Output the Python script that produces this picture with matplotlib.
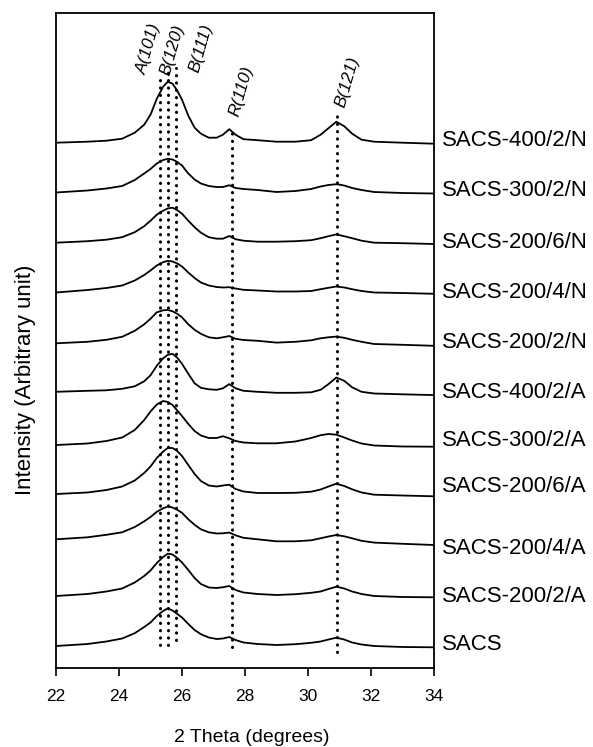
import matplotlib
matplotlib.use('Agg')
import matplotlib.pyplot as plt
import matplotlib.transforms as mtransforms

plt.rcParams['font.family'] = ['Liberation Sans', 'DejaVu Sans']

# ---------------- data ----------------
two_theta = [22.0, 23.0, 23.6, 24.1, 24.5, 24.8, 25.0, 25.2, 25.4, 25.55, 25.7, 25.85,
             26.0, 26.2, 26.4, 26.6, 26.85, 27.1, 27.3, 27.5, 27.7, 27.95, 28.4, 29.0,
             29.6, 30.1, 30.4, 30.65, 30.9, 31.15, 31.4, 31.7, 32.1, 33.0, 34.0]

samples = ['SACS-400/2/N', 'SACS-300/2/N', 'SACS-200/6/N', 'SACS-200/4/N', 'SACS-200/2/N',
           'SACS-400/2/A', 'SACS-300/2/A', 'SACS-200/6/A', 'SACS-200/4/A', 'SACS-200/2/A', 'SACS']

# vertical stacking offset of each pattern (arbitrary units)
offsets = [525.3, 475.5, 425.3, 375.5, 324.7, 276.2, 223.0, 174.0, 128.7, 72.0, 22.0]

i_400_2_N = [0, 1, 2, 4, 10, 18, 28, 44, 56, 61, 59, 52, 43, 27, 15, 9, 5, 5, 8, 13.5, 8, 3.5,
             2.5, 1, 1, 2.5, 8, 14.5, 21, 16.5, 9, 3, 1, 0, -1]
i_300_2_N = [0, 2, 4, 6.5, 12.5, 19, 23.5, 29, 32.5, 33.7, 33, 30.5, 27, 19, 13, 9, 6.5, 5.5, 5.5,
             7.3, 4.5, 3.5, 2.5, 0.5, 1.5, 3.5, 6, 7.5, 8.3, 7, 4.5, 2.5, 0.5, -0.5, -1]
i_200_6_N = [0, 1.5, 3, 5.5, 10.5, 16.5, 22, 28, 32, 34.3, 35, 32.5, 29, 22, 15.5, 10, 5.5, 4, 4,
             6.7, 3.5, 2, 1, 1, 1.5, 2.5, 4.5, 6.5, 8.3, 6.5, 4.5, 2, 0, -0.5, -1.3]
i_200_4_N = [0, 2.5, 4.5, 7, 12, 17.5, 22, 27, 30.3, 31.7, 31, 29, 26, 20, 14.5, 10, 7, 5.5, 5,
             5.3, 4, 2.7, 2, 1, 1, 1.5, 3.3, 4.7, 6, 5, 3.3, 1.5, 0, -0.5, -1.3]
i_200_2_N = [0, 1.5, 3.5, 6.5, 12.5, 19, 24.5, 31, 33, 33.3, 32, 29.5, 26, 19, 13.5, 9.5, 6, 5, 6,
             7.3, 4.5, 3.3, 2.5, 0.7, 1.5, 3, 5, 6, 6.7, 5.5, 3.5, 1.5, -0.7, -1.5, -2.5]
i_400_2_A = [0, 1, 1.5, 3, 5.5, 10.5, 16.5, 26, 33.5, 37, 38, 34, 28, 18, 8.5, 4, 2.5, 2, 3.5,
             7.7, 3.5, 1, 0, -1, -1, -0.5, 2, 7.7, 14.3, 11, 4.5, 0, -1.7, -2.5, -3.3]
i_300_2_A = [0, 1.5, 4, 7.5, 15, 25, 33.5, 40.5, 44, 43, 40, 34.5, 29, 21, 14, 9.5, 7, 7, 8.8,
             6.7, 4, 2.5, 1.7, 1.7, 3.5, 7, 9.8, 11, 10.3, 7.5, 4.5, 1.5, -0.5, -1.5, -1.7]
i_200_6_A = [0, 1.5, 4, 7.5, 13.5, 21, 27.5, 36, 42.5, 46, 46, 43, 38, 29, 20, 13, 8.5, 7.5, 8.5,
             9.3, 5, 2.5, 1, 1, 1.2, 2.3, 4.5, 7.5, 10.3, 8, 4.7, 1.5, -0.7, -1.5, -2.3]
i_200_4_A = [0, 2, 4.5, 7, 12.3, 18, 22.3, 27.5, 31, 32.7, 31.8, 29.5, 26.5, 20, 14.5, 10, 7, 5.8,
             6, 6.7, 4, 1.5, 0, -2, -2, -1, 1, 2.8, 4.3, 3, 1, -1.5, -3.3, -4.5, -5.7]
i_200_2_A = [0, 2, 4.5, 7.5, 13.5, 20, 25.5, 33, 39, 42.3, 41.5, 38, 33.5, 26, 18, 12, 8.5, 8, 8.8,
             10, 6, 3.5, 2, 1, 1.8, 3.2, 4.5, 7, 9.3, 7.5, 4.5, 2, 0, -1, -1.3]
i_SACS = [0, 2, 4.5, 7.5, 12.8, 19, 23.5, 30, 35, 37.7, 35.5, 32, 28.5, 22, 16, 11.8, 8.5, 7, 7.5,
          9, 6, 3.5, 2, 1, 1.8, 3.2, 4.5, 6.5, 8.3, 6.5, 3.5, 1.5, 0, -1, -1.3]

intensities = [i_400_2_N, i_300_2_N, i_200_6_N, i_200_4_N, i_200_2_N,
               i_400_2_A, i_300_2_A, i_200_6_A, i_200_4_A, i_200_2_A, i_SACS]

ref_labels = ['A(101)', 'B(120)', 'B(111)', 'R(110)', 'B(121)']
ref_positions = [25.29, 25.57, 25.81, 27.58, 30.93]

x_ticks = [22, 24, 26, 28, 30, 32, 34]

# ---------------- layout ----------------
ref_line_bottom = [23, 23, 28, 21, 16]
ref_line_top = [592, 598, 600, 537, 556]
ref_text_xy = [(24.95, 619), (25.7, 618), (26.62, 620), (27.9, 577), (31.24, 586)]
label_y = [528, 478, 426, 375, 326, 275, 228, 181, 120, 71, 23]

W, H = 593, 747
fig = plt.figure(figsize=(W / 100, H / 100), dpi=100)
ax = fig.add_axes([56 / W, 1 - 668 / H, (434 - 56) / W, (668 - 13) / H])

for inten, off in zip(intensities, offsets):
    ax.plot(two_theta, [v + off for v in inten], color='black', lw=1.3)

for pos, y0, y1 in zip(ref_positions, ref_line_bottom, ref_line_top):
    ax.plot([pos, pos], [y0, y1], color='black', lw=2.2,
            linestyle=(0, (0.1, 2.3)), dash_capstyle='round')

for lab, (tx, ty) in zip(ref_labels, ref_text_xy):
    ax.text(tx, ty, lab, rotation=74, style='italic', fontsize=12.5,
            ha='center', va='center')

trans = mtransforms.blended_transform_factory(ax.transAxes, ax.transData)
for name, ly in zip(samples, label_y):
    ax.text(1.021, ly, name, transform=trans, fontsize=16, ha='left', va='center',
            clip_on=False)

ax.set_xlim(22, 34)
ax.set_ylim(0, 655)
ax.set_yticks([])
ax.set_xticks(x_ticks)
ax.tick_params(axis='x', direction='out', length=6, width=1.2, labelsize=12.5, pad=9)
for sp in ax.spines.values():
    sp.set_linewidth(1.3)

fig.text(26 / W, 1 - 380 / H, 'Intensity (Arbitrary unit)', rotation=90, fontsize=16,
         ha='center', va='center')
fig.text(252 / W, 1 - 737 / H, '2 Theta (degrees)', fontsize=14, ha='center', va='center')

fig.savefig('out.png', dpi=100)
